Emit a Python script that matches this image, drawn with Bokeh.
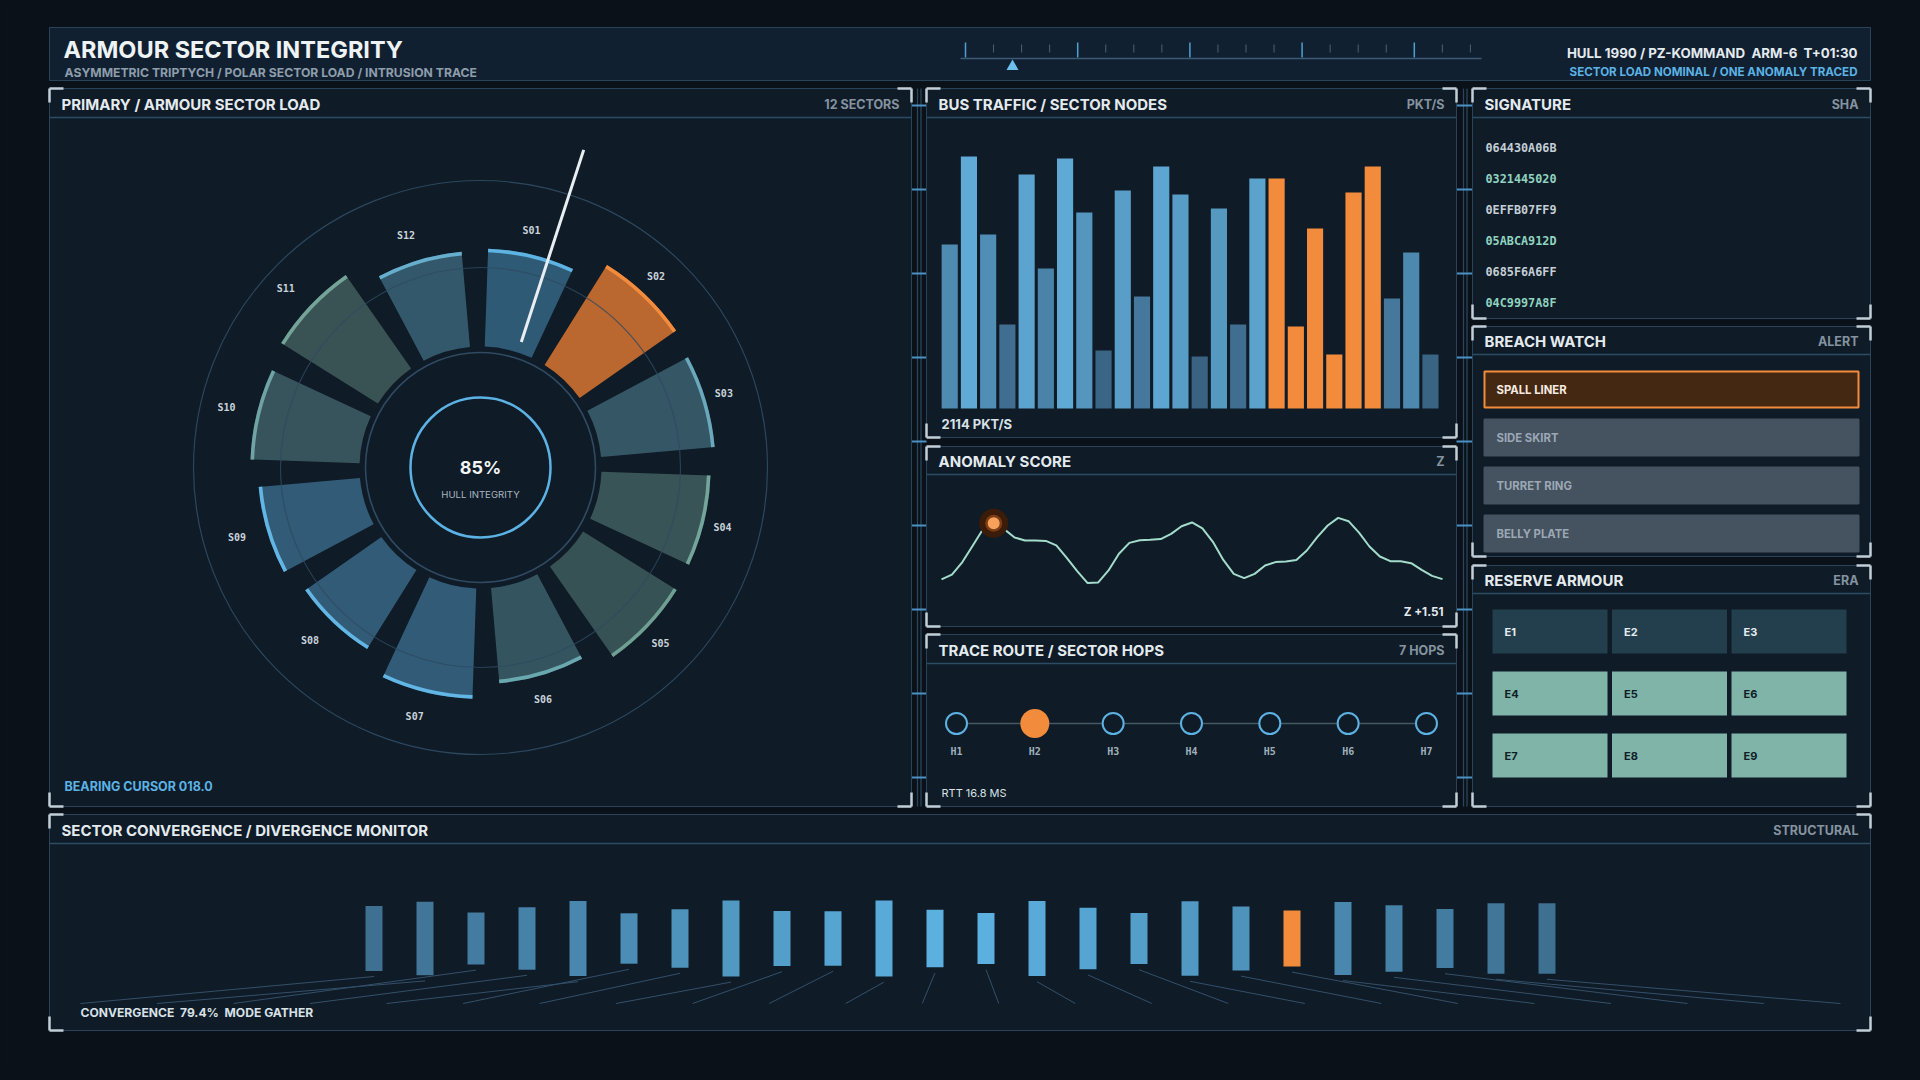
import math
from bokeh.plotting import figure
from bokeh.models import Range1d
from bokeh.core.properties import value
from bokeh.embed import file_html
from bokeh.resources import INLINE

# ---------------- data ----------------
sector_labels = ["S01", "S02", "S03", "S04", "S05", "S06", "S07", "S08", "S09", "S10", "S11", "S12"]
sector_load = [79, 95, 92, 88, 89, 77, 89, 75, 82, 88, 92, 77]
sector_alert = [0, 1, 0, 0, 0, 0, 0, 0, 0, 0, 0, 0]
bearing_cursor = 18.0

bus_traffic = [82, 126, 87, 42, 117, 70, 125, 98, 29, 109, 56, 121, 107,
               26, 100, 42, 115, 115, 41, 90, 27, 108, 121, 55, 78, 27]
bus_flag = [0] * 17 + [1] * 6 + [0] * 3

anomaly_z = [-1.60, -1.33, -0.64, 0.28, 1.20, 1.51, 1.18, 0.72, 0.55, 0.55, 0.53, 0.28,
             -0.41, -1.14, -1.80, -1.77, -1.10, -0.18, 0.42, 0.57, 0.59, 0.63, 0.92, 1.34,
             1.55, 1.22, 0.48, -0.52, -1.29, -1.53, -1.29, -0.83, -0.64, -0.61, -0.52, 0.00,
             0.74, 1.38, 1.80, 1.62, 0.99, 0.22, -0.33, -0.59, -0.59, -0.70, -1.07, -1.40, -1.58]
anomaly_flag_index = 5

hop_labels = ["H1", "H2", "H3", "H4", "H5", "H6", "H7"]
hop_flag = [0, 1, 0, 0, 0, 0, 0]
rtt_ms = 16.8

signatures = ["064430A06B", "0321445020", "0EFFB07FF9", "05ABCA912D", "0685F6A6FF", "04C9997A8F"]
breach_items = ["SPALL LINER", "SIDE SKIRT", "TURRET RING", "BELLY PLATE"]
breach_alert = [1, 0, 0, 0]
era_cells = ["E1", "E2", "E3", "E4", "E5", "E6", "E7", "E8", "E9"]
era_spent = [1, 1, 1, 0, 0, 0, 0, 0, 0]

conv_spread = [81, 92, 65, 78, 94, 63, 73, 95, 69, 68, 95, 72,
               64, 94, 77, 64, 93, 80, 70, 91, 83, 74, 88, 88]
conv_flag = [0] * 18 + [1] + [0] * 5
convergence_pct = 79.4

# ---------------- style ----------------
BG = "#0a1118"
PANEL = "#0f1b26"
HEADER = "#112030"
BORDER = "#29445a"
SEP = "#2c4b64"
BRACKET = "#c3cfd8"
TITLE = "#e4ebf0"
TAG = "#8593a0"
BLUE = "#5cb2e4"
ORANGE = "#f28c3c"
MINT = "#a3dccb"
FONT = "Inter"
MONO = "DejaVu Sans Mono"

W, H = 1904, 1064
p = figure(width=W, height=H, x_range=Range1d(0, W), y_range=Range1d(H, 0),
           output_backend="svg", toolbar_location=None, x_axis_location=None,
           y_axis_location=None, min_border=0, background_fill_color=BG,
           border_fill_color=BG, outline_line_color=None)
p.grid.visible = False


def xr(origin, k):
    return Range1d((0 - origin) / k, (W - origin) / k)


def yr_up(origin, k):
    return Range1d((origin - H) / k, (origin - 0) / k)


CX, CY, KP = 480, 467, 1.24
p.extra_x_ranges = {"polx": xr(CX, KP), "busx": xr(949.2, 19.23), "anx": xr(941, 501 / 48),
                    "hopx": xr(956, 78.33), "cvx": xr(373.5, 51.0)}
p.extra_y_ranges = {"poly": yr_up(CY, KP), "busy": yr_up(408, 2.0), "any": yr_up(550, 18.1),
                    "cvy": yr_up(938, 0.8)}


def txt(x, y, s, size, color, align="left", font=FONT, style="bold", **kw):
    p.text(x=[x], y=[y], text=[s], text_font=value(font), text_font_size=f"{size}px",
           text_font_style=style, text_color=color, text_align=align,
           text_baseline="middle", **kw)


def lerp(c1, c2, t):
    a = [int(c1[i:i + 2], 16) for i in (1, 3, 5)]
    b = [int(c2[i:i + 2], 16) for i in (1, 3, 5)]
    return "#" + "".join(f"{int(round(a[i] + (b[i] - a[i]) * t)):02x}" for i in range(3))


def panel(x0, y0, x1, y1, title, tag, sep):
    p.quad(left=x0, right=x1, top=y0, bottom=y1, fill_color=PANEL, line_color=BORDER, line_width=1)
    p.segment(x0=x0, y0=sep, x1=x1, y1=sep, line_color=SEP, line_width=1.3)
    ty = (y0 + sep) / 2 + 1
    txt(x0 + 12, ty, title, 15, TITLE)
    txt(x1 - 12, ty, tag, 12.5, TAG, align="right")
    L = 14
    xs0, ys0, xs1, ys1 = [], [], [], []
    for cx, cy, dx, dy in [(x0, y0, 1, 1), (x1, y0, -1, 1), (x0, y1, 1, -1), (x1, y1, -1, -1)]:
        xs0 += [cx, cx]; ys0 += [cy, cy]
        xs1 += [cx + dx * L, cx]; ys1 += [cy, cy + dy * L]
    p.segment(x0=xs0, y0=ys0, x1=xs1, y1=ys1, line_color=BRACKET, line_width=2.5)


# ---------------- header ----------------
p.quad(left=49, right=1870, top=27, bottom=80, fill_color=HEADER, line_color=BORDER, line_width=1)
txt(63, 49, "ARMOUR SECTOR INTEGRITY", 23.5, "#eef3f6")
txt(64, 72, "ASYMMETRIC TRIPTYCH / POLAR SECTOR LOAD / INTRUSION TRACE", 12.2, "#8e9dab")
tx = [965 + 28.05 * j for j in range(19)]
maj = [x for j, x in enumerate(tx) if j % 4 == 0]
mnr = [x for j, x in enumerate(tx) if j % 4 != 0]
p.segment(x0=mnr, y0=[44] * len(mnr), x1=mnr, y1=[52] * len(mnr), line_color="#4a6175", line_width=1)
p.segment(x0=maj, y0=[42] * len(maj), x1=maj, y1=[57] * len(maj), line_color="#4f9fd3", line_width=1.5)
p.segment(x0=[960], y0=[58], x1=[1481], y1=[58], line_color="#3a5a75", line_width=1.5)
p.scatter(x=[1012], y=[66], marker="triangle", size=12, fill_color="#6ec0ec", line_color=None)
txt(1857, 52, "HULL 1990 / PZ-KOMMAND\u00a0\u00a0ARM-6\u00a0\u00a0T+01:30", 13.3, TITLE, align="right")
txt(1857, 71, "SECTOR LOAD NOMINAL / ONE ANOMALY TRACED", 11.6, BLUE, align="right")

# ---------------- connectors ----------------
ticks_y = [105 + 84 * k for k in range(9)]
for v1, v2, a, b in [(917, 920.5, 911, 926), (1463, 1466.5, 1456, 1472)]:
    p.segment(x0=[v1, v2], y0=[88, 88], x1=[v1, v2], y1=[806, 806], line_color="#2a465e", line_width=1.3)
    p.segment(x0=[a] * 9, y0=ticks_y, x1=[b] * 9, y1=ticks_y, line_color="#4a92c4", line_width=2)

# ---------------- panels ----------------
panel(49, 88, 911, 806, "PRIMARY / ARMOUR SECTOR LOAD", f"{len(sector_labels)} SECTORS", 117)
panel(926, 88, 1456, 437, "BUS TRAFFIC / SECTOR NODES", "PKT/S", 117)
panel(926, 446, 1456, 626, "ANOMALY SCORE", "Z", 474)
panel(926, 634, 1456, 806, "TRACE ROUTE / SECTOR HOPS", f"{len(hop_labels)} HOPS", 663)
panel(1472, 88, 1870, 318, "SIGNATURE", "SHA", 117)
panel(1472, 326, 1870, 556, "BREACH WATCH", "ALERT", 354)
panel(1472, 565, 1870, 806, "RESERVE ARMOUR", "ERA", 593)
panel(49, 814, 1870, 1030, "SECTOR CONVERGENCE / DIVERGENCE MONITOR", "STRUCTURAL", 843)

# ---------------- polar sector load ----------------
cap_colors = ["#5db3e2", ORANGE, "#6aa9bd", "#74a59a", "#6f9f93", "#6aa8b0",
              "#62b6e5", "#62b6e5", "#62b6e5", "#6fa3a4", "#74a397", "#66aecb"]
R_IN = 121 / KP
n = len(sector_labels)
centers = [13.5 + 360 / n * i for i in range(n)]
half = 11.5
starts = [math.radians(90 - c - half) for c in centers]
ends = [math.radians(90 - c + half) for c in centers]
outer = [R_IN + v for v in sector_load]
fills = ["#c46c30" if a else c for a, c in zip(sector_alert, cap_colors)]
falpha = [0.95 if a else 0.42 for a in sector_alert]
P = dict(x_range_name="polx", y_range_name="poly")
p.circle(x=[0], y=[0], radius=[287 / KP], fill_color=None, line_color="#2c475e", line_width=1.2, **P)
p.circle(x=[0], y=[0], radius=[115 / KP], fill_color=None, line_color="#2f4a62", line_width=1.6, **P)
p.annular_wedge(x=[0] * n, y=[0] * n, inner_radius=[R_IN] * n, outer_radius=outer,
                start_angle=starts, end_angle=ends, fill_color=fills, fill_alpha=falpha,
                line_color=None, **P)
p.annular_wedge(x=[0] * n, y=[0] * n, inner_radius=[o - 3.6 / KP for o in outer], outer_radius=outer,
                start_angle=starts, end_angle=ends, fill_color=cap_colors, line_color=None, **P)
p.circle(x=[0], y=[0], radius=[200 / KP], fill_color=None, line_color="#2e4a62", line_alpha=0.8,
         line_width=1.2, **P)
p.circle(x=[0], y=[0], radius=[70 / KP], fill_color=None, line_color=BLUE, line_width=2.5, **P)
lab_r = [o + 25 / KP for o in outer]
p.text(x=[r * math.cos(math.radians(90 - c)) - 6 / KP for r, c in zip(lab_r, centers)],
       y=[r * math.sin(math.radians(90 - c)) for r, c in zip(lab_r, centers)], text=sector_labels,
       text_font=value(MONO), text_font_size="10px", text_font_style="bold",
       text_color="#c9d3db", text_align="center", text_baseline="middle", **P)
ba = math.radians(90 - bearing_cursor)
p.segment(x0=[132 / KP * math.cos(ba)], y0=[132 / KP * math.sin(ba)],
          x1=[334 / KP * math.cos(ba)], y1=[334 / KP * math.sin(ba)],
          line_color="#e9eef2", line_width=3, **P)
mean_load = sum(sector_load) / n
txt(CX, CY, f"{round(mean_load)}%", 18, "#f2f6f8", align="center")
txt(CX, CY + 27, "HULL INTEGRITY", 9.6, "#a7b6c2", align="center", style="normal")
txt(64, 786, f"BEARING CURSOR {bearing_cursor:05.1f}", 12.5, BLUE)

# ---------------- bus traffic ----------------
vmin, vmax = min(bus_traffic), max(bus_traffic)
bus_colors = [ORANGE if f else lerp("#3a6383", "#5faad6", (v - vmin) / (vmax - vmin))
              for v, f in zip(bus_traffic, bus_flag)]
p.vbar(x=list(range(len(bus_traffic))), width=0.84, top=bus_traffic, bottom=0,
       fill_color=bus_colors, line_color=None, x_range_name="busx", y_range_name="busy")
txt(941, 423, f"{sum(bus_traffic)} PKT/S", 13, "#d8e1e8")

# ---------------- anomaly ----------------
ax = list(range(len(anomaly_z)))
p.line(x=ax, y=anomaly_z, line_color=MINT, line_width=2, x_range_name="anx", y_range_name="any")
fi = anomaly_flag_index
A = dict(x_range_name="anx", y_range_name="any")
p.scatter(x=[fi], y=[anomaly_z[fi]], size=29, fill_color="#3a1c09", line_color=None, **A)
p.scatter(x=[fi], y=[anomaly_z[fi]], size=17, fill_color="#7a3d14", line_color=None, **A)
p.scatter(x=[fi], y=[anomaly_z[fi]], size=12, fill_color="#f7a15c", line_color=None, **A)
txt(1443, 611, f"Z {anomaly_z[fi]:+.2f}", 11.7, "#e4ebf0", align="right")

# ---------------- trace route ----------------
nh = len(hop_labels)
HY = 723
p.line(x=[0, nh - 1], y=[HY, HY], line_color="#465766", line_width=1.5, x_range_name="hopx")
norm = [i for i in range(nh) if not hop_flag[i]]
flg = [i for i in range(nh) if hop_flag[i]]
p.scatter(x=norm, y=[HY] * len(norm), size=21, fill_color=PANEL, line_color=BLUE, line_width=2,
          x_range_name="hopx")
p.scatter(x=flg, y=[HY] * len(flg), size=29, fill_color=ORANGE, line_color=None, x_range_name="hopx")
p.text(x=list(range(nh)), y=[751] * nh, text=hop_labels, text_font=value(MONO),
       text_font_size="10px", text_font_style="bold", text_color="#9fb0bd",
       text_align="center", text_baseline="middle", x_range_name="hopx")
txt(941, 792, f"RTT {rtt_ms} MS", 11, "#d8e1e8", style="normal")

# ---------------- signature ----------------
sig_y = [147 + 31 * k for k in range(len(signatures))]
p.text(x=[1485] * len(signatures), y=sig_y, text=signatures, text_font=value(MONO),
       text_font_size="11.8px", text_font_style="bold",
       text_color=["#c4ced6" if k % 2 == 0 else "#8fd3c0" for k in range(len(signatures))],
       text_align="left", text_baseline="middle")

# ---------------- breach watch ----------------
bt = [371 + 48 * k for k in range(len(breach_items))]
p.quad(left=[1484] * 4, right=[1858] * 4, top=bt, bottom=[t + 36 for t in bt],
       fill_color=["#452811" if a else "#455260" for a in breach_alert],
       line_color=[ORANGE if a else "#455260" for a in breach_alert], line_width=2)
p.text(x=[1496] * 4, y=[t + 18 for t in bt], text=breach_items, text_font=value(FONT),
       text_font_size="11.3px", text_font_style="bold",
       text_color=["#f6ebe0" if a else "#9ba8b4" for a in breach_alert],
       text_align="left", text_baseline="middle")

# ---------------- reserve armour ----------------
cl = [1492 + 119.5 * (k % 3) for k in range(9)]
ct = [609 + 62 * (k // 3) for k in range(9)]
p.quad(left=cl, right=[c + 115 for c in cl], top=ct, bottom=[t + 44 for t in ct],
       fill_color=["#233f4e" if s else "#81b4a9" for s in era_spent], line_color=None)
p.text(x=[c + 12 for c in cl], y=[t + 22 for t in ct], text=era_cells, text_font=value(FONT),
       text_font_size="11px", text_font_style="bold",
       text_color=["#e3ebf0" if s else "#0f1e27" for s in era_spent],
       text_align="left", text_baseline="middle")

# ---------------- convergence monitor ----------------
nc = len(conv_spread)
ci = list(range(nc))
end_x = [(80 + k * 1760 / (nc - 1) - 373.5) / 51.0 for k in ci]
C = dict(x_range_name="cvx", y_range_name="cvy")
p.segment(x0=ci, y0=[-v / 2 - 7 for v in conv_spread], x1=end_x, y1=[(938 - 1003) / 0.8] * nc,
          line_color="#34506a", line_width=1, **C)
conv_colors = [ORANGE if f else lerp("#3e7092", "#5db3e2", 1 - abs(k - (nc - 1) / 2) / ((nc - 1) / 2))
               for k, f in zip(ci, conv_flag)]
p.vbar(x=ci, width=17 / 51, top=[v / 2 for v in conv_spread], bottom=[-v / 2 for v in conv_spread],
       fill_color=conv_colors, line_color=None, **C)
txt(80, 1012, f"CONVERGENCE\u00a0\u00a0{convergence_pct}%\u00a0\u00a0MODE GATHER", 12.1, "#d8e1e8")

html = file_html(p, INLINE, title="Armour Sector Integrity")
html = html.replace("</head>", f"<style>html,body{{background:{BG};overflow:hidden;}}</style></head>", 1)
open("out.html", "w").write(html)
